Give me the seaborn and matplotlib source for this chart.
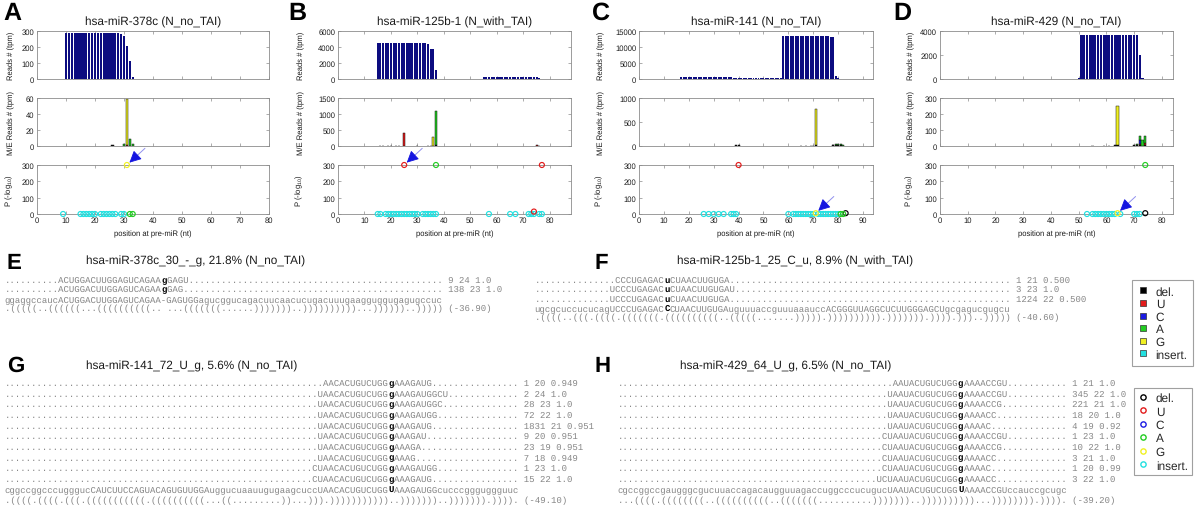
import numpy as np
import matplotlib
matplotlib.use("Agg")
import matplotlib.pyplot as plt
from matplotlib.lines import Line2D
import seaborn as sns

# ---------------- categories / colours ----------------
NT_LABELS = ["del.", "U", "C", "A", "G", "insert."]
NT_COLORS = ["#000000", "#e21b1b", "#1b1be2", "#22cc22", "#f0f022", "#22e0e0"]

PANEL_LETTERS = ["A", "B", "C", "D"]
PANEL_TITLES = ["hsa-miR-378c (N_no_TAI)", "hsa-miR-125b-1 (N_with_TAI)",
                "hsa-miR-141 (N_no_TAI)", "hsa-miR-429 (N_no_TAI)"]
PANEL_XMAX = [80, 88, 94, 84]
PANEL_XTICKS = [[0, 10, 20, 30, 40, 50, 60, 70, 80],
                [0, 10, 20, 30, 40, 50, 60, 70, 80],
                [0, 10, 20, 30, 40, 50, 60, 70, 80, 90],
                [0, 10, 20, 30, 40, 50, 60, 70, 80]]
READ_YTICKS = [[0, 100, 200, 300], [0, 2000, 4000, 6000],
               [0, 5000, 10000, 15000], [0, 2000, 4000]]
MM_YTICKS = [[0, 20, 40, 60], [0, 500, 1000, 1500],
             [0, 500, 1000], [0, 100, 200, 300]]
P_YTICKS = [0, 100, 200, 300]

# ---------------- read coverage (tpm) ----------------
A_READ_START = 9
A_READS = [3, 288, 288, 288, 288, 288, 288, 288, 288, 288, 288, 288, 288, 288, 288,
           288, 288, 288, 288, 288, 279, 268, 207, 113, 10]
B_READ_START_1 = 15
B_READS_1 = [4450, 4450, 4450, 4450, 4450, 4450, 4450, 4450, 4450, 4450, 4450, 4450,
             4450, 4450, 4450, 4450, 4450, 4450, 4450, 4400, 3800, 3780, 1100]
B_READ_START_2 = 55
B_READS_2 = [240, 240, 240, 240, 240, 240, 240, 240, 240, 240, 240, 240, 240, 240,
             240, 240, 240, 240, 240, 240, 200, 120, 30]
C_READ_START = 17
C_READS = [560, 560, 560, 560, 560, 560, 560, 560, 560, 560, 560, 560, 560, 560, 560,
           560, 560, 560, 560, 560, 560,
           200, 200, 200, 200, 200, 200, 200, 200, 200, 200, 200, 200, 200, 200, 200,
           200, 200, 200, 200, 200,
           13300, 13300, 13300, 13300, 13300, 13300, 13300, 13300, 13300, 13300, 13300,
           13300, 13300, 13300, 13300, 13300, 13300, 13300, 13300,
           13000, 13000, 900, 350, 150, 60]
D_READ_START = 38
D_READS = [30, 0, 0, 0, 0, 0, 0, 0, 0, 0, 0, 0, 120,
           3650, 3650, 3650, 3650, 3650, 3650, 3650, 3650, 3650, 3650, 3650, 3650, 3650,
           3650, 3650, 3650, 3650, 3650, 3650, 3650, 3650, 2000, 60]

# ---------------- mismatch reads (tpm), stacked by type ----------------
A_MM_POS = [26, 30, 31, 32, 33]
A_MM_DEL = [1, 0, 0, 0, 0]
A_MM_U = [0, 0, 1.5, 0, 0]
A_MM_C = [0, 0, 0, 0, 0]
A_MM_A = [0, 3, 0, 9, 3]
A_MM_G = [0, 0, 57, 0, 0]
A_MM_INS = [0, 0, 0, 0, 0]

B_MM_POS = [16, 17, 19, 20, 22, 23, 25, 30, 34, 35, 36, 37, 75, 76]
B_MM_DEL = [12, 12, 12, 12, 12, 12, 0, 8, 12, 12, 12, 20, 8, 15]
B_MM_U = [0, 0, 0, 0, 0, 0, 400, 0, 0, 0, 0, 0, 35, 0]
B_MM_C = [0, 0, 0, 0, 0, 0, 0, 0, 0, 0, 0, 0, 0, 0]
B_MM_A = [0, 0, 0, 0, 0, 0, 0, 0, 0, 0, 0, 1080, 0, 0]
B_MM_G = [0, 0, 0, 0, 0, 0, 0, 0, 0, 0, 260, 0, 0, 0]
B_MM_INS = [0, 0, 0, 0, 0, 0, 0, 0, 0, 0, 0, 0, 0, 0]

C_MM_POS = [39, 40, 65, 67, 69, 70, 71, 78, 79, 80, 81, 82]
C_MM_DEL = [15, 12, 6, 6, 8, 8, 20, 12, 15, 15, 12, 8]
C_MM_U = [0, 0, 0, 0, 0, 0, 0, 0, 5, 5, 5, 0]
C_MM_C = [0, 0, 0, 0, 0, 0, 0, 0, 0, 0, 0, 0]
C_MM_A = [0, 0, 0, 0, 0, 0, 0, 10, 25, 30, 28, 8]
C_MM_G = [0, 0, 0, 0, 0, 0, 760, 0, 0, 0, 0, 0]
C_MM_INS = [0, 0, 0, 0, 0, 0, 0, 0, 0, 0, 0, 0]

D_MM_POS = [55, 59, 61, 63, 64, 70, 71, 72, 73, 74]
D_MM_DEL = [3, 3, 3, 4, 6, 5, 6, 4, 3, 8]
D_MM_U = [0, 0, 0, 0, 0, 0, 0, 8, 0, 10]
D_MM_C = [0, 0, 0, 0, 0, 0, 0, 25, 0, 0]
D_MM_A = [0, 0, 0, 0, 0, 0, 5, 25, 37, 42]
D_MM_G = [0, 0, 0, 0, 244, 0, 0, 0, 0, 0]
D_MM_INS = [0, 0, 0, 0, 0, 0, 0, 0, 0, 0]

# ---------------- P values (-log10) per type ----------------
A_PI_POS = [9, 15, 16, 17, 18, 19, 20, 22, 23, 24, 25, 26, 27, 29, 30]
A_PI = [0, 0, 0, 0, 0, 0, 0, 0, 0, 0, 0, 0, 0, 0, 0]
A_PD_POS, A_PD = [], []
A_PU_POS, A_PU = [], []
A_PC_POS, A_PC = [], []
A_PA_POS, A_PA = [32, 33], [0, 0]
A_PG_POS, A_PG = [31], [300]

B_PI_POS = [15, 16, 18, 19, 20, 21, 22, 23, 24, 25, 26, 27, 28, 29, 30, 32, 33, 34,
            35, 36, 37, 57, 65, 67, 72, 73, 74, 76, 77]
B_PI = [0, 0, 0, 0, 0, 0, 0, 0, 0, 0, 0, 0, 0, 0, 0, 0, 0, 0, 0, 0, 0, 0, 0, 0, 0,
        0, 0, 0, 0]
B_PD_POS, B_PD = [], []
B_PU_POS, B_PU = [25, 74, 77], [300, 15, 300]
B_PC_POS, B_PC = [], []
B_PA_POS, B_PA = [37], [300]
B_PG_POS, B_PG = [], []

C_PI_POS = [26, 28, 30, 32, 34, 37, 38, 39, 60, 62, 63, 64, 65, 66, 67, 68, 69, 70,
            72, 73, 74, 75, 76, 77, 78, 79, 80]
C_PI = [0, 0, 0, 0, 0, 0, 0, 0, 0, 0, 0, 0, 0, 0, 0, 0, 0, 0, 0, 0, 0, 0, 0, 0, 0,
        0, 0]
C_PD_POS, C_PD = [83], [5]
C_PU_POS, C_PU = [40], [300]
C_PC_POS, C_PC = [], []
C_PA_POS, C_PA = [81, 82], [0, 0]
C_PG_POS, C_PG = [71], [5]

D_PI_POS = [53, 55, 56, 57, 58, 59, 60, 61, 62, 63, 65, 70, 71, 72]
D_PI = [0, 0, 0, 0, 0, 0, 0, 0, 0, 0, 0, 0, 0, 0]
D_PD_POS, D_PD = [74], [5]
D_PU_POS, D_PU = [], []
D_PC_POS, D_PC = [], []
D_PA_POS, D_PA = [74], [300]
D_PG_POS, D_PG = [64], [5]

ARROW_TARGETS = [(31, 300), (25, 300), (71, 5), (64, 5)]

# ---------------- sequence panels E-H ----------------
E_TITLE = "hsa-miR-378c_30_-_g, 21.8% (N_no_TAI)"
E_SEQ = "ggaggccaucACUGGACUUGGAGUCAGAA-GAGUGGagucggucagacuucaacucugacuuugaagguggugagugccuc"
E_STRUCT = ".(((((..((((((...((((((((((.. ...(((((((......)))))))..))))))))))...))))))..)))))"
E_MFE = "(-36.90)"
E_READS = ["ACUGGACUUGGAGUCAGAAgGAGU", "ACUGGACUUGGAGUCAGAAgGAG"]
E_STARTS = [10, 10]
E_INFO = ["9 24 1.0", "138 23 1.0"]
E_MUT = 29

F_TITLE = "hsa-miR-125b-1_25_C_u, 8.9% (N_with_TAI)"
F_SEQ = "ugcgcuccucucagUCCCUGAGACCCUAACUUGUGAuguuuaccguuuaaauccACGGGUUAGGCUCUUGGGAGCUgcgagucgugcu"
F_STRUCT = ".((((..(((.((((.(((((((.((((((((((..(((((.......))))).)))))))))).))))))).)))).)))..)))))."
F_MFE = "(-40.60)"
F_READS = ["CCCUGAGACuCUAACUUGUGA", "UCCCUGAGACuCUAACUUGUGAU", "UCCCUGAGACuCUAACUUGUGA"]
F_STARTS = [15, 14, 14]
F_INFO = ["1 21 0.500", "3 23 1.0", "1224 22 0.500"]
F_MUT = 24

G_TITLE = "hsa-miR-141_72_U_g, 5.6% (N_no_TAI)"
G_SEQ = "cggccggcccugggucCAUCUUCCAGUACAGUGUUGGAuggucuaauugugaagcuccUAACACUGUCUGGUAAAGAUGGcucccggguggguuc"
G_STRUCT = ".((((.((((.(((.(((((((((((.((((((((((...((.........))...))).)))))))))))..)))))))..))))))).))))."
G_MFE = "(-49.10)"
G_READS = ["AACACUGUCUGGgAAAGAUG", "UAACACUGUCUGGgAAAGAUGGCU", "UAACACUGUCUGGgAAAGAUGGC",
           "UAACACUGUCUGGgAAAGAUGG", "UAACACUGUCUGGgAAAGAUG", "UAACACUGUCUGGgAAAGAU",
           "UAACACUGUCUGGgAAAGA", "UAACACUGUCUGGgAAAG", "CUAACACUGUCUGGgAAAGAUGG",
           "CUAACACUGUCUGGgAAAGAUG"]
G_STARTS = [59, 58, 58, 58, 58, 58, 58, 58, 57, 57]
G_INFO = ["1 20 0.949", "2 24 1.0", "28 23 1.0", "72 22 1.0", "1831 21 0.951",
          "9 20 0.951", "23 19 0.951", "7 18 0.949", "1 23 1.0", "15 22 1.0"]
G_MUT = 71

H_TITLE = "hsa-miR-429_64_U_g, 6.5% (N_no_TAI)"
H_SEQ = "cgccggccgaugggcgucuuaccagacaugguuagaccuggcccucugucUAAUACUGUCUGGUAAAACCGUccauccgcugc"
H_STRUCT = "...((((.((((((((..((((((((((..(((((((..........)))))))..))))))))))...)))))))).))))."
H_MFE = "(-39.20)"
H_READS = ["AAUACUGUCUGGgAAAACCGU", "UAAUACUGUCUGGgAAAACCGU", "UAAUACUGUCUGGgAAAACCG",
           "UAAUACUGUCUGGgAAAACC", "UAAUACUGUCUGGgAAAAC", "CUAAUACUGUCUGGgAAAACCGU",
           "CUAAUACUGUCUGGgAAAACCG", "CUAAUACUGUCUGGgAAAACC", "CUAAUACUGUCUGGgAAAAC",
           "UCUAAUACUGUCUGGgAAAACC"]
H_STARTS = [51, 50, 50, 50, 50, 49, 49, 49, 49, 48]
H_INFO = ["1 21 1.0", "345 22 1.0", "221 21 1.0", "18 20 1.0", "4 19 0.92",
          "1 23 1.0", "10 22 1.0", "3 21 1.0", "1 20 0.99", "3 22 1.0"]
H_MUT = 63

# ---------------- tables built from the arrays above ----------------
READ_SEGMENTS = [[(A_READ_START, A_READS)],
                 [(B_READ_START_1, B_READS_1), (B_READ_START_2, B_READS_2)],
                 [(C_READ_START, C_READS)],
                 [(D_READ_START, D_READS)]]
MM_TABLE = [(A_MM_POS, [A_MM_DEL, A_MM_U, A_MM_C, A_MM_A, A_MM_G, A_MM_INS]),
            (B_MM_POS, [B_MM_DEL, B_MM_U, B_MM_C, B_MM_A, B_MM_G, B_MM_INS]),
            (C_MM_POS, [C_MM_DEL, C_MM_U, C_MM_C, C_MM_A, C_MM_G, C_MM_INS]),
            (D_MM_POS, [D_MM_DEL, D_MM_U, D_MM_C, D_MM_A, D_MM_G, D_MM_INS])]
P_TABLE = [[(A_PD_POS, A_PD), (A_PU_POS, A_PU), (A_PC_POS, A_PC), (A_PA_POS, A_PA), (A_PG_POS, A_PG), (A_PI_POS, A_PI)],
           [(B_PD_POS, B_PD), (B_PU_POS, B_PU), (B_PC_POS, B_PC), (B_PA_POS, B_PA), (B_PG_POS, B_PG), (B_PI_POS, B_PI)],
           [(C_PD_POS, C_PD), (C_PU_POS, C_PU), (C_PC_POS, C_PC), (C_PA_POS, C_PA), (C_PG_POS, C_PG), (C_PI_POS, C_PI)],
           [(D_PD_POS, D_PD), (D_PU_POS, D_PU), (D_PC_POS, D_PC), (D_PA_POS, D_PA), (D_PG_POS, D_PG), (D_PI_POS, D_PI)]]

# ---------------- styling ----------------
sns.set_theme(style="ticks")
plt.rcParams.update({
    "font.family": ["Liberation Sans", "DejaVu Sans"],
    "mathtext.default": "regular",
    "text.hinting": "no_hinting",
    "axes.edgecolor": "#8c8c8c",
    "axes.linewidth": 0.6,
    "xtick.direction": "in", "ytick.direction": "in",
    "xtick.top": True, "ytick.right": True,
    "xtick.major.size": 2.0, "ytick.major.size": 2.0,
    "xtick.major.width": 0.5, "ytick.major.width": 0.5,
    "xtick.color": "#8c8c8c", "ytick.color": "#8c8c8c",
    "xtick.labelcolor": "#1a1a1a", "ytick.labelcolor": "#1a1a1a",
    "xtick.labelsize": 5.5, "ytick.labelsize": 5.5,
    "axes.labelsize": 5.5, "axes.labelcolor": "#1a1a1a",
    "xtick.major.pad": 1.5, "ytick.major.pad": 2.0,
})

MONO = "Liberation Mono"
MONO_SIZE = 6.5
GRAY = "#858585"


def _col_profile(arr):
    return 255.0 - arr[:, :, 0].astype(float)


def measure_advance():
    """Rendered advance of one monospace cell, in pixels."""
    ft = plt.figure(figsize=(8, 0.4), dpi=100)
    ft.text(0.01, 0.5, "|" + " " * 100 + "|", fontfamily=MONO, fontsize=MONO_SIZE,
            color="black", va="center")
    ft.canvas.draw()
    a = _col_profile(np.asarray(ft.canvas.buffer_rgba()))
    plt.close(ft)
    d = a.max(axis=0)
    cols = np.where(d > 20)[0]
    fallback = 1229.0 / 2048.0 * MONO_SIZE * 100.0 / 72.0
    if len(cols) < 2:
        return fallback
    sp = np.where(np.diff(cols) > 3)[0]
    if len(sp) == 0:
        return fallback
    g1, g2 = cols[:sp[0] + 1], cols[sp[0] + 1:]
    c1 = (g1 * d[g1]).sum() / d[g1].sum()
    c2 = (g2 * d[g2]).sum() / d[g2].sum()
    return (c2 - c1) / 101.0


ADV = measure_advance()


def measure_offsets(items):
    """For each (char, bold) give the anchor shift that puts its pen origin
    where a space-led string would put it (compensates the side bearing)."""
    shifts = [0.0, 0.25, 0.5, 0.75]
    rows = []
    for c, b in items:
        for s in shifts:
            rows.append((" " + c, b, s))
            rows.append((c, b, s))
    row_h = 16
    fh = len(rows) * row_h
    ft = plt.figure(figsize=(1.0, fh / 100.0), dpi=100)
    for r, (t, b, s) in enumerate(rows):
        ft.text((20 + s) / 100.0, 1 - (r * row_h + 11) / fh, t, fontfamily=MONO,
                fontsize=MONO_SIZE, fontweight="bold" if b else "normal",
                color="black", ha="left", va="baseline")
    ft.canvas.draw()
    a = _col_profile(np.asarray(ft.canvas.buffer_rgba()))
    plt.close(ft)
    xs = np.arange(a.shape[1])
    cen = []
    for r in range(len(rows)):
        col = a[r * row_h:(r + 1) * row_h].sum(axis=0)
        cen.append((xs * col).sum() / max(col.sum(), 1e-9))
    out = {}
    k = 0
    for c, b in items:
        vals = []
        for s in shifts:
            vals.append(cen[k] - cen[k + 1] - ADV)
            k += 2
        out[(c, b)] = float(np.mean(vals))
    return out


W, H = 1200, 510
fig = plt.figure(figsize=(12, 5.1), dpi=100)
fig.patch.set_facecolor("white")

AX_X = [(37, 269), (338, 571), (639, 873), (940, 1173)]
AX_Y = [(32, 80), (99, 147), (166, 215)]
YLABEL_OFF = [22, 33, 34, 25]
LETTER_X = [3, 288, 592, 893]
NAVY = "#0c0c80"


def add_ax(x0, x1, y0, y1):
    return fig.add_axes([x0 / W, 1 - y1 / H, (x1 - x0) / W, (y1 - y0) / H])


def circles(ax, xs, ys, color):
    if len(xs) == 0:
        return
    sns.scatterplot(x=np.asarray(xs, float), y=np.asarray(ys, float), ax=ax,
                    marker="o", s=13, facecolor="none", edgecolor=color,
                    linewidth=0.85, clip_on=False, zorder=5, legend=False)


for i in range(4):
    x0, x1 = AX_X[i]
    axw = x1 - x0
    axes = [add_ax(x0, x1, y0, y1) for (y0, y1) in AX_Y]
    ax_r, ax_m, ax_p = axes

    for start, vals in READ_SEGMENTS[i]:
        pos = np.arange(start, start + len(vals))
        ax_r.bar(pos, vals, width=0.78, color=NAVY, linewidth=0)

    mpos, mlists = MM_TABLE[i]
    mpos = np.asarray(mpos, float)
    bottom = np.zeros(len(mpos))
    for k, vals in enumerate(mlists):
        v = np.asarray(vals, float)
        m = v > 0
        if m.any():
            ax_m.bar(mpos[m], v[m], bottom=bottom[m], width=0.8, color=NT_COLORS[k],
                     edgecolor="#111111", linewidth=0.35)
        bottom = bottom + v

    order = [5, 0, 1, 2, 3, 4]
    for k in order:
        xs, ys = P_TABLE[i][k]
        circles(ax_p, xs, ys, NT_COLORS[k])

    tx, ty = ARROW_TARGETS[i]
    ax_p.annotate("", xy=(tx, ty), xytext=(13, 12), textcoords="offset points",
                  arrowprops=dict(arrowstyle="-", color="#9090ee", lw=0.7,
                                  shrinkA=0, shrinkB=6),
                  annotation_clip=False, zorder=6)
    ax_p.annotate("", xy=(tx, ty), xytext=(7.5, 7), textcoords="offset points",
                  arrowprops=dict(arrowstyle="-|>,head_length=0.6,head_width=0.3",
                                  color="#1515e0", lw=0.6, shrinkA=0, shrinkB=2.5),
                  annotation_clip=False, zorder=6)

    yt = [READ_YTICKS[i], MM_YTICKS[i], P_YTICKS]
    for j, ax in enumerate(axes):
        ax.set_xlim(0, PANEL_XMAX[i])
        ax.set_xticks(PANEL_XTICKS[i])
        ax.set_ylim(0, yt[j][-1])
        ax.set_yticks(yt[j])
        ax.set_facecolor("white")
        for sp in ax.spines.values():
            sp.set_visible(True)
            sp.set_color("#8c8c8c")
            sp.set_linewidth(0.6)
        if j < 2:
            ax.tick_params(labelbottom=False)
        ax.yaxis.set_label_coords(-YLABEL_OFF[i] / axw, 0.5)

    ax_r.set_ylabel("Reads # (tpm)")
    ax_m.set_ylabel("M/E Reads # (tpm)")
    ax_p.set_ylabel("P (-log$_{10}$)")
    ax_p.set_xlabel("position at pre-miR (nt)")
    ax_p.xaxis.set_label_coords(0.5, -15.5 / 49)

    fig.text((x0 + x1) / 2 / W, 1 - 22 / H, PANEL_TITLES[i], ha="center", va="center",
             fontsize=8.5, color="#1a1a1a")
    fig.text(LETTER_X[i] / W, 1 - 2 / H, PANEL_LETTERS[i], ha="left", va="top",
             fontsize=18, fontweight="bold", color="black")

# ---------------- sequence text blocks ----------------
PIECES = []   # (text, bold, pen_x_px, baseline_y_px)


def seq_line(x_px, y_px, text, bold_idx=None):
    if bold_idx is not None and bold_idx < len(text) and text[bold_idx].isalpha():
        pre, ch, post = text[:bold_idx], text[bold_idx], text[bold_idx + 1:]
        PIECES.append((pre, False, x_px, y_px))
        PIECES.append((ch, True, x_px + bold_idx * ADV, y_px))
        PIECES.append((post, False, x_px + (bold_idx + 1) * ADV, y_px))
    else:
        PIECES.append((text, False, x_px, y_px))


def seq_block(x0, y_first, dy, seq, struct, mfe, starts, reads, infos, mut, seq_bold):
    L = len(seq)
    for r, (st, rd, inf) in enumerate(zip(starts, reads, infos)):
        line = "." * st + rd
        line = line + "." * max(0, L - len(line)) + " " + inf
        seq_line(x0, y_first + r * dy, line, mut)
    n = len(reads)
    seq_line(x0, y_first + n * dy, seq, mut if seq_bold else None)
    s = struct[:L].ljust(L, ".") + " " + mfe
    seq_line(x0, y_first + (n + 1) * dy, s, None)


def block_header(letter, lx, ly, title, tx, ty):
    fig.text(lx / W, 1 - ly / H, letter, ha="left", va="top", fontsize=16,
             fontweight="bold", color="black")
    fig.text(tx / W, 1 - ty / H, title, ha="left", va="center", fontsize=8.5,
             color="#1a1a1a")


block_header("E", 7, 253, E_TITLE, 86, 261)
seq_block(5, 283, 9.4, E_SEQ, E_STRUCT, E_MFE, E_STARTS, E_READS, E_INFO, E_MUT, False)

block_header("F", 595, 253, F_TITLE, 677, 261)
seq_block(535, 283, 9.4, F_SEQ, F_STRUCT, F_MFE, F_STARTS, F_READS, F_INFO, F_MUT, True)

block_header("G", 7, 356, G_TITLE, 86, 366)
seq_block(5, 386, 10.65, G_SEQ, G_STRUCT, G_MFE, G_STARTS, G_READS, G_INFO, G_MUT, True)

block_header("H", 595, 356, H_TITLE, 680, 366)
seq_block(618, 386, 10.65, H_SEQ, H_STRUCT, H_MFE, H_STARTS, H_READS, H_INFO, H_MUT, True)

_items = sorted({(t[0], b) for (t, b, _, _) in PIECES if t and t[0] != " "})
OFFSETS = measure_offsets(_items)

for text, bold, px, py in PIECES:
    if not text:
        continue
    off = OFFSETS.get((text[0], bold), 0.0)
    fig.text((px + off) / W, 1 - py / H, text, fontfamily=MONO, fontsize=MONO_SIZE,
             color="black" if bold else GRAY, fontweight="bold" if bold else "normal",
             ha="left", va="baseline")

# ---------------- legends ----------------
h_sq = [Line2D([], [], ls="none", marker="s", ms=5, mfc=c, mec="#333333", mew=0.5)
        for c in NT_COLORS]
leg1 = fig.legend(h_sq, NT_LABELS, loc="upper left", bbox_to_anchor=(1132 / W, 1 - 281 / H),
                  frameon=True, fancybox=False, edgecolor="#888888", fontsize=8.5,
                  handlelength=0.8, handletextpad=0.7, labelspacing=0.12,
                  borderpad=0.5, borderaxespad=0)
leg1.get_frame().set_linewidth(0.8)

h_ci = [Line2D([], [], ls="none", marker="o", ms=3.8, mfc="none", mec=c, mew=1.0)
        for c in NT_COLORS]
leg2 = fig.legend(h_ci, NT_LABELS, loc="upper left", bbox_to_anchor=(1134 / W, 1 - 389 / H),
                  frameon=True, fancybox=False, edgecolor="#888888", fontsize=8.5,
                  handlelength=0.8, handletextpad=0.7, labelspacing=0.2,
                  borderpad=0.35, borderaxespad=0)
leg2.get_frame().set_linewidth(0.8)

fig.savefig("out.png", dpi=100, facecolor="white")
